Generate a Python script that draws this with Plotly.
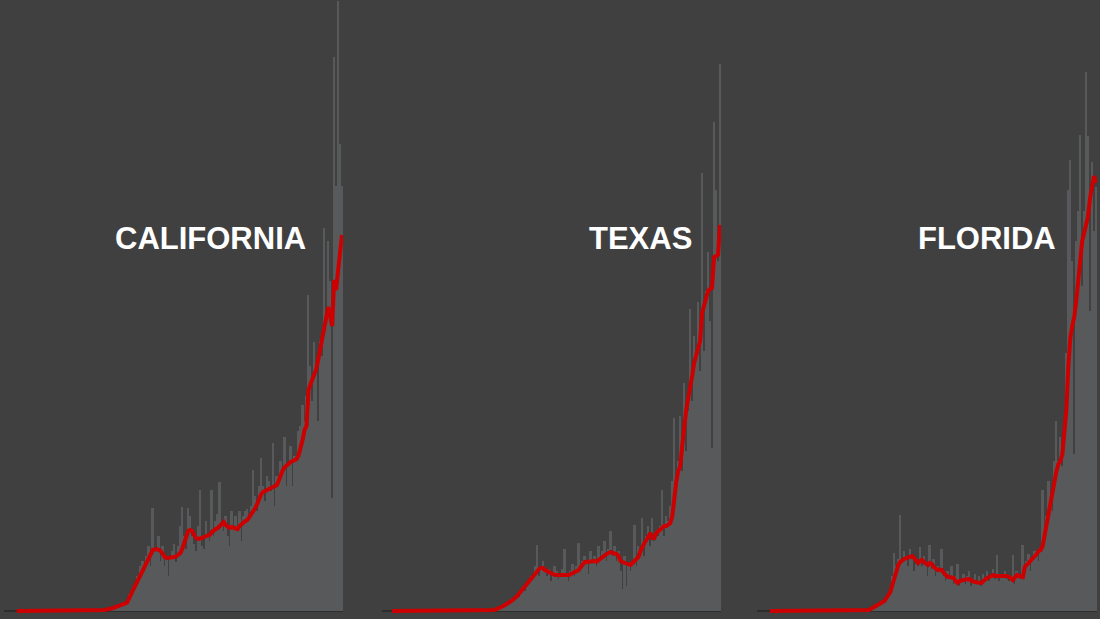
import pandas as pd
import plotly.graph_objects as go

# Daily new cases (bars) and 7-day average (red line), ~Jan 22 - Jul 5
dates = pd.date_range("2020-01-22", periods=166, freq="D")

ca_daily = [
    0, 0, 0, 0, 0, 0, 0, 0, 0, 0, 0, 0, 0, 0, 0, 0, 0, 0, 0, 0,
    0, 0, 0, 0, 0, 0, 0, 0, 0, 0, 0, 0, 0, 0, 0, 0, 0, 0, 0, 0, 0,
    10, 20, 10, 30, 40, 20, 50, 60, 50, 90,
    110, 80, 150, 170, 120, 220, 350, 400, 450, 560,
    700, 620, 900, 1000, 780, 1100, 1300, 900, 2060, 1260,
    1200, 1500, 1000, 1300, 900, 1100, 700, 1050, 1200, 1350,
    980, 1300, 1700, 2080, 1500, 1250, 2060, 1900, 1500, 1350,
    1200, 1700, 2420, 1300, 1250, 1800, 1500, 1400, 2420, 1500,
    1800, 1950, 2580, 1700, 1600, 1900, 1500, 1300, 2000, 1700,
    1900, 1650, 2000, 1400, 1900, 2000, 2050, 1850, 2100, 2820,
    2300, 2000, 2500, 3060, 2500, 2200, 2700, 2600, 2400, 3360,
    2100, 2700, 2600, 3000, 2800, 3480, 2500, 2900, 3300, 2500,
    3100, 3000, 3600, 3700, 4120, 3800, 4300, 6320, 4900, 4200,
    5380, 4900, 3800, 5400, 5100, 7660, 5800, 7400, 6600, 2260,
    11080, 8500, 12200, 9340, 8500,
]
ca_avg = [
    0, 0, 0, 0, 0, 0, 0, 0, 0, 0, 0, 0, 0, 0, 0, 0, 0, 0, 0, 0,
    0, 0, 0, 0, 0, 0, 0, 0, 0, 0, 0, 0, 0, 0, 0, 0, 0, 0, 0, 0, 0,
    10, 10, 15, 20, 25, 30, 40, 50, 60, 80,
    90, 100, 110, 130, 150, 170, 240, 330, 420, 500,
    580, 650, 730, 820, 900, 980, 1060, 1150, 1220, 1230,
    1240, 1220, 1200, 1150, 1080, 1060, 1060, 1070, 1060, 1080,
    1100, 1130, 1160, 1250, 1380, 1500, 1600, 1620, 1600, 1520,
    1460, 1440, 1440, 1460, 1480, 1500, 1520, 1530, 1580, 1620,
    1640, 1660, 1700, 1740, 1780, 1720, 1680, 1660, 1680, 1660,
    1640, 1640, 1700, 1740, 1760, 1800, 1820, 1880, 1920, 2000,
    2060, 2140, 2260, 2340, 2380, 2400, 2420, 2440, 2460, 2480,
    2500, 2520, 2620, 2740, 2820, 2880, 2920, 2960, 2980, 3000,
    3020, 3040, 3120, 3240, 3420, 3620, 3700, 4420, 4560, 4640,
    4740, 4840, 5040, 5260, 5380, 5620, 5860, 6080, 5900, 5700,
    6620, 6420, 6800, 7100, 7520,
]

tx_daily = [
    0, 0, 0, 0, 0, 0, 0, 0, 0, 0, 0, 0, 0, 0, 0, 0, 0, 0, 0, 0, 0, 0, 0, 0, 0,
    0, 0, 0, 0, 0, 0, 0, 0, 0, 0, 0, 0, 0, 0, 0, 0, 0, 0, 0, 0, 0, 0, 0, 0, 0,
    20, 30, 40, 60, 50, 100, 80, 150, 120, 200,
    250, 180, 300, 350, 280, 450, 500, 400, 600, 550,
    700, 650, 900, 1320, 700, 900, 1000, 800, 700, 850,
    600, 750, 900, 800, 650, 700, 850, 1240, 700, 600,
    800, 950, 700, 900, 1360, 800, 1000, 1100, 950, 750,
    1200, 1000, 1100, 900, 1300, 1000, 1200, 1400, 1000, 1250,
    1600, 1100, 1300, 1000, 1200, 800, 440, 1100, 500, 950,
    800, 1000, 1720, 900, 1300, 1200, 1860, 1100, 1500, 1700,
    1300, 1860, 1400, 1600, 1500, 1700, 2420, 1500, 1900, 1800,
    2100, 2600, 3860, 2500, 3000, 3900, 2800, 4560, 3200, 4000,
    6040, 4200, 5500, 5000, 6180, 4800, 8760, 5200, 6400, 7180,
    5800, 3260, 9780, 8420, 7000, 10940,
]
tx_avg = [
    0, 0, 0, 0, 0, 0, 0, 0, 0, 0, 0, 0, 0, 0, 0, 0, 0, 0, 0, 0, 0, 0, 0, 0, 0,
    0, 0, 0, 0, 0, 0, 0, 0, 0, 0, 0, 0, 0, 0, 0, 0, 0, 0, 0, 0, 0, 0, 0, 0, 0,
    10, 20, 30, 40, 60, 80, 100, 120, 150, 180,
    200, 230, 260, 300, 350, 400, 440, 480, 530, 580,
    630, 680, 720, 780, 840, 860, 860, 820, 800, 780,
    740, 730, 720, 720, 720, 710, 720, 730, 720, 720,
    740, 760, 780, 800, 820, 880, 940, 980, 980, 990,
    980, 1000, 1000, 990, 1020, 1060, 1100, 1120, 1140, 1160,
    1180, 1160, 1160, 1140, 1100, 1000, 980, 970, 960, 940,
    920, 960, 1000, 1040, 1080, 1200, 1300, 1360, 1420, 1480,
    1560, 1460, 1460, 1560, 1600, 1620, 1660, 1700, 1700, 1740,
    1760, 1900, 2280, 2580, 2800, 2900, 3300, 3700, 4020, 4250,
    4440, 4700, 4960, 5100, 5250, 5400, 5960, 6100, 6250, 6400,
    6440, 6460, 7080, 7100, 7120, 7720,
]

fl_daily = [
    0, 0, 0, 0, 0, 0, 0, 0, 0, 0, 0, 0, 0, 0, 0, 0, 0, 0, 0, 0, 0, 0, 0, 0,
    0, 0, 0, 0, 0, 0, 0, 0, 0, 0, 0, 0, 0, 0, 0, 0, 0, 0, 0, 0, 0, 0, 0, 0,
    10, 30, 20, 40, 60, 50, 100, 130, 160, 180,
    230, 300, 350, 450, 700, 1160, 900, 1050, 1920, 1000,
    1200, 1100, 900, 1250, 1050, 800, 950, 900, 1280, 900,
    1100, 900, 700, 1320, 850, 1050, 700, 900, 800, 1240,
    700, 600, 800, 650, 900, 550, 700, 940, 500, 650,
    750, 550, 700, 800, 500, 650, 750, 600, 700, 500,
    750, 650, 800, 600, 700, 850, 650, 1120, 600, 750,
    700, 800, 650, 600, 700, 1120, 550, 800, 700, 650,
    1320, 900, 1000, 1150, 800, 1000, 1200, 1100, 1000, 1200,
    2420, 1500, 1900, 2600, 2200, 2000, 3000, 3800, 3000, 3480,
    2900, 3500, 5160, 8420, 9020, 7000, 3140, 7400, 8000, 9520,
    6500, 8000, 10780, 9500, 6000, 8980, 7600, 8480,
]
fl_avg = [
    0, 0, 0, 0, 0, 0, 0, 0, 0, 0, 0, 0, 0, 0, 0, 0, 0, 0, 0, 0, 0, 0, 0, 0,
    0, 0, 0, 0, 0, 0, 0, 0, 0, 0, 0, 0, 0, 0, 0, 0, 0, 0, 0, 0, 0, 0, 0, 0,
    10, 15, 20, 40, 60, 80, 100, 120, 140, 160,
    200, 260, 320, 380, 520, 680, 820, 920, 980, 1020,
    1040, 1060, 1080, 1100, 1100, 1060, 1000, 960, 1000, 1020,
    980, 950, 920, 960, 940, 880, 840, 820, 830, 820,
    760, 720, 680, 680, 670, 660, 600, 560, 600, 620,
    620, 630, 640, 640, 600, 580, 580, 570, 560, 560,
    600, 640, 660, 680, 700, 720, 700, 700, 700, 710,
    700, 700, 700, 680, 660, 620, 680, 720, 700, 680,
    680, 880, 920, 960, 1000, 1040, 1080, 1140, 1200, 1220,
    1300, 1520, 1700, 1880, 2100, 2420, 2620, 2800, 2940, 3000,
    3140, 3600, 4020, 4900, 5460, 5700, 5880, 6200, 6600, 6900,
    7400, 7560, 7760, 7900, 8260, 8500, 8700, 8560,
]

states = ["CALIFORNIA", "TEXAS", "FLORIDA"]
daily = [ca_daily, tx_daily, fl_daily]
avg = [ca_avg, tx_avg, fl_avg]

for name, d, a in zip(states, daily, avg):
    assert len(d) == len(dates), (name, "daily", len(d))
    assert len(a) == len(dates), (name, "avg", len(a))

BG = "#404040"
BAR = "#58595b"
RED = "#cc0000"
AXIS = "#2e2e2e"

# panel placement (paper fractions) and left padding (days) before first bar
domains = [(4 / 1100, 343 / 1100), (382 / 1100, 721 / 1100), (757 / 1100, 1097 / 1100)]
pads = [6.5, 5.0, 6.5]
title_x = [211 / 1100, 640 / 1100, 987 / 1100]

fig = go.Figure()
day = pd.Timedelta(days=1)

for i, (name, d, a) in enumerate(zip(states, daily, avg)):
    suffix = "" if i == 0 else str(i + 1)
    fig.add_trace(
        go.Bar(
            x=dates, y=d, marker_color=BAR, marker_line_width=0,
            xaxis="x" + suffix, yaxis="y" + suffix, showlegend=False,
            hoverinfo="skip",
        )
    )
    fig.add_trace(
        go.Scatter(
            x=dates, y=a, mode="lines", line=dict(color=RED, width=4),
            xaxis="x" + suffix, yaxis="y" + suffix, showlegend=False,
            hoverinfo="skip",
        )
    )
    fig.update_layout(
        {
            "xaxis" + suffix: dict(
                domain=list(domains[i]),
                range=[dates[0] - pads[i] * day, dates[-1] + 0.5 * day],
                showgrid=False, zeroline=False, showticklabels=False,
                showline=False, ticks="", anchor="y" + suffix,
            ),
            "yaxis" + suffix: dict(
                domain=[5 / 619, 1],
                range=[-60, 12220],
                showgrid=False, showticklabels=False, ticks="",
                zeroline=True, zerolinecolor=AXIS, zerolinewidth=2,
                anchor="x" + suffix,
            ),
        }
    )
    fig.add_annotation(
        text="<b>%s</b>" % name, x=title_x[i], y=1 - 238 / 619,
        xref="paper", yref="paper", xanchor="center", yanchor="middle",
        showarrow=False,
        font=dict(family="Liberation Sans, Arial, sans-serif", size=31, color="white"),
    )

fig.update_layout(
    width=1100, height=619,
    margin=dict(l=0, r=0, t=0, b=0),
    paper_bgcolor=BG, plot_bgcolor=BG,
    bargap=0,
)

# drop the default page margin so the chart fills the window
fig.write_html(
    "out.html",
    config={"displayModeBar": False},
    post_script="document.body.style.margin='0';document.body.style.overflow='hidden';",
)
